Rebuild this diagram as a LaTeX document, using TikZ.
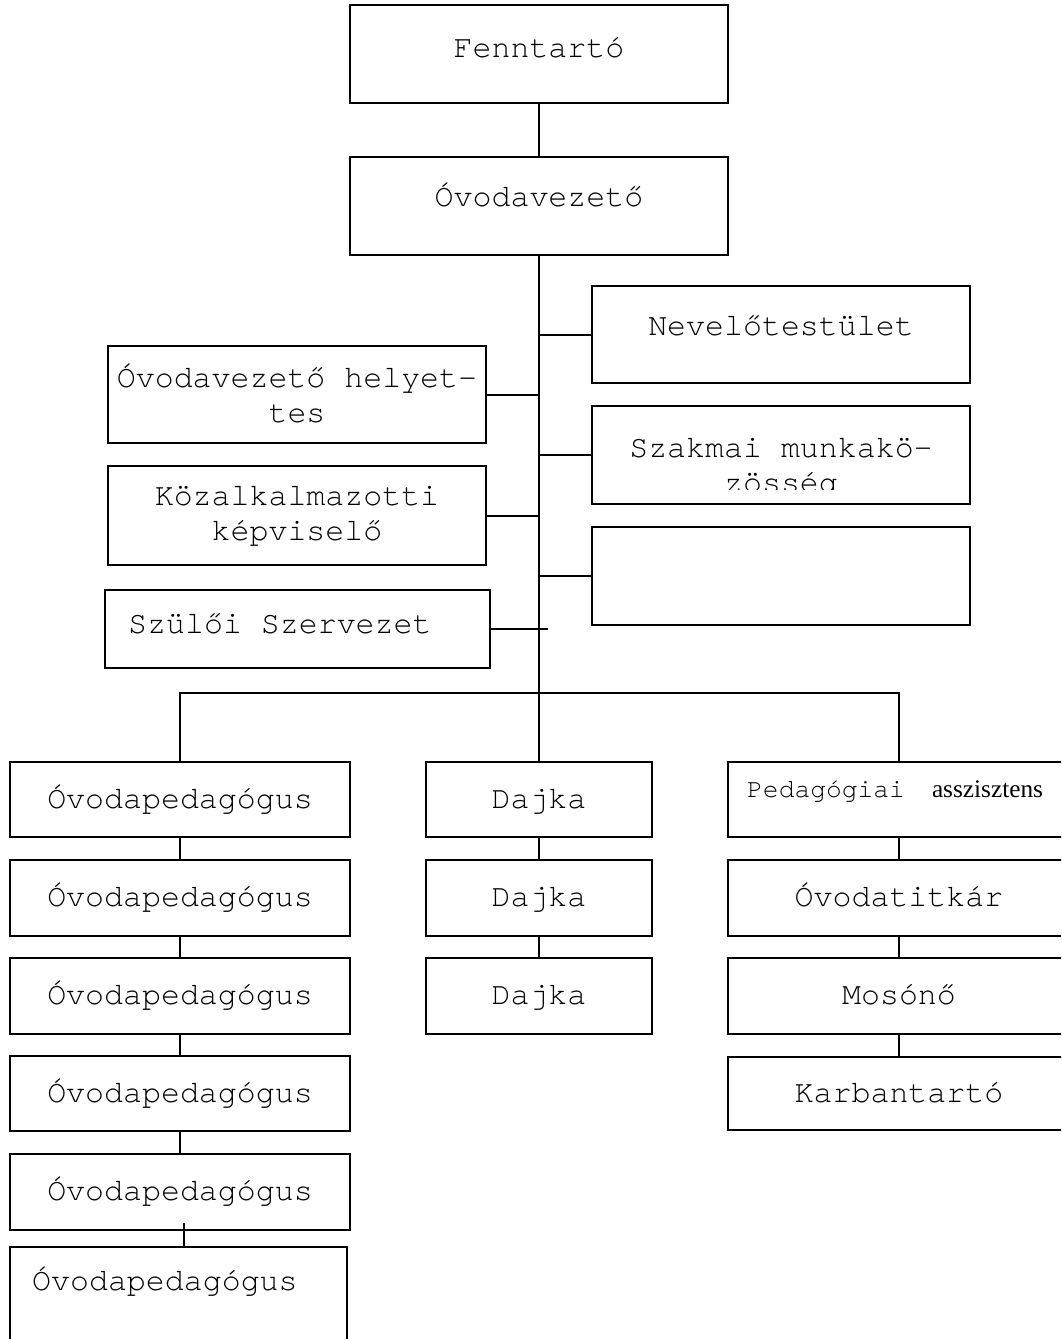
\documentclass[tikz,border=0pt]{standalone}
\usepackage{fontspec}
\setmainfont{texgyrecursor-regular.otf}
\newfontfamily\tnr{Liberation Serif}
\usetikzlibrary{fit}
\begin{document}
\begin{tikzpicture}[x=1pt,y=-1pt,
  box/.style={draw, line width=2pt, inner sep=0pt, outer sep=0pt},
  lnk/.style={line width=2pt},
  txt/.style={inner sep=0pt, anchor=base, align=center, font=\fontsize{31.6}{34.5}\selectfont},
  txtl/.style={inner sep=0pt, anchor=base west, font=\fontsize{31.6}{34.5}\selectfont},
  smalltxt/.style={inner sep=0pt, anchor=base west, font=\fontsize{26.3}{30}\selectfont}]
\useasboundingbox (0,0) rectangle (1061,1339);
\clip (0,0) rectangle (1061,1339);
% top boxes
\node[box, fit={(350,5) (728,103)}] (fenn) {};
\node[box, fit={(350,157) (728,255)}] (vez) {};
% side boxes
\node[box, fit={(592,286) (970,383)}] (nev) {};
\node[box, fit={(592,406) (970,504)}] (szak) {};
\node[box, fit={(592,527) (970,625)}] (empty) {};
\node[box, fit={(108,346) (486,443)}] (hely) {};
\node[box, fit={(108,466) (486,565)}] (koz) {};
\node[box, fit={(105,590) (490,668)}] (szul) {};
% left column
\node[box, fit={(10,762) (350,837)}] (op1) {};
\node[box, fit={(10,860) (350,936)}] (op2) {};
\node[box, fit={(10,958) (350,1034)}] (op3) {};
\node[box, fit={(10,1056) (350,1131)}] (op4) {};
\node[box, fit={(10,1154) (350,1230)}] (op5) {};
\node[box, fit={(9.5,1247) (347,1360)}] (op6) {};
% middle column
\node[box, fit={(426,762) (652,837)}] (d1) {};
\node[box, fit={(426,860) (652,936)}] (d2) {};
\node[box, fit={(426,958) (652,1034)}] (d3) {};
% right column
\node[box, fit={(728,762) (1070,837)}] (pa) {};
\node[box, fit={(728,860) (1070,936)}] (tit) {};
\node[box, fit={(728,958) (1070,1034)}] (mos) {};
\node[box, fit={(728,1057) (1070,1130)}] (karb) {};
% connectors
\draw[lnk] (fenn.south) -- (vez.north);
\draw[lnk] (vez.south) -- (d1.north);
\draw[lnk] (nev.west) -- (nev.west -| vez.south);
\draw[lnk] (szak.west) -- (szak.west -| vez.south);
\draw[lnk] (empty.west) -- (empty.west -| vez.south);
\draw[lnk] (hely.east) -- (hely.east -| vez.south);
\draw[lnk] (koz.east) -- (koz.east -| vez.south);
\coordinate (szulend) at (548,629);
\draw[lnk] (szul.east) -- (szulend);
\coordinate (bus) at (539,693);
\draw[lnk] (op1.north) |- (bus) -| (pa.north);
\draw[lnk] (op1.south) -- (op2.north);
\draw[lnk] (op2.south) -- (op3.north);
\draw[lnk] (op3.south) -- (op4.north);
\draw[lnk] (op4.south) -- (op5.north);
\draw[lnk] ([xshift=6pt]op6.north) -- ++(0,-24);
\draw[lnk] (d1.south) -- (d2.north);
\draw[lnk] (d2.south) -- (d3.north);
\draw[lnk] (pa.south) -- (tit.north);
\draw[lnk] (tit.south) -- (mos.north);
\draw[lnk] (mos.south) -- (karb.north);
% texts
\node[txt] (tfenn) at (539,57) {Fenntartó};
\node[txt] (tvez) at (539,206) {Óvodavezető};
\node[txt] (tnev) at (781,335) {Nevelőtestület};
\node[txt] (thely) at (297,422) {Óvodavezető helyet-\\tes};
\begin{scope}
\clip (592,406) rectangle (970,489);
\node[txt] (tszak) at (781,492) {Szakmai munkakö-\\zösség};
\end{scope}
\node[txt] (tkoz) at (297,540) {Közalkalmazotti\\képviselő};
\node[txtl] (tszul) at (128,633) {Szülői Szervezet};
\node[txt] (top1) at (180,808) {Óvodapedagógus};
\node[txt] (top2) at (180,906) {Óvodapedagógus};
\node[txt] (top3) at (180,1004) {Óvodapedagógus};
\node[txt] (top4) at (180,1102) {Óvodapedagógus};
\node[txt] (top5) at (180,1200) {Óvodapedagógus};
\node[txtl] (top6) at (32,1290) {Óvodapedagógus};
\node[txt] (td1) at (539,808) {Dajka};
\node[txt] (td2) at (539,906) {Dajka};
\node[txt] (td3) at (539,1004) {Dajka};
\node[smalltxt] (tpa) at (747,797) {Pedagógiai\hspace{27pt}{\tnr\fontsize{25.3}{30}\selectfont asszisztens}};
\node[txt] (ttit) at (899,906) {Óvodatitkár};
\node[txt] (tmos) at (899,1004) {Mosónő};
\node[txt] (tkarb) at (899,1102) {Karbantartó};
\end{tikzpicture}
\end{document}
